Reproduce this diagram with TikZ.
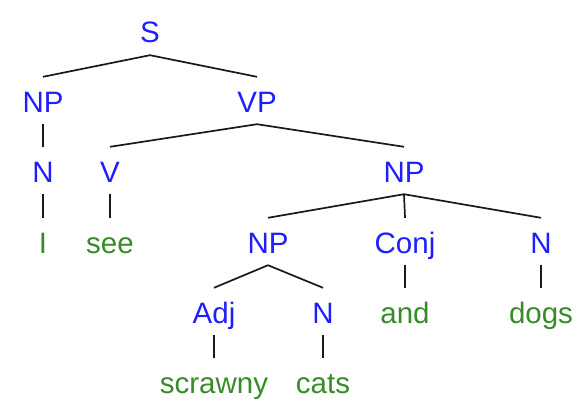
\documentclass[tikz,border=0pt]{standalone}
\usepackage{fontspec}
\setmainfont{Liberation Sans}
\definecolor{catblue}{RGB}{30,30,255}
\definecolor{wordgreen}{RGB}{55,140,40}
\begin{document}
\begin{tikzpicture}[x=1pt,y=-1pt,
  lab/.style={anchor=base,font=\fontsize{29.5}{31}\selectfont,text height=23pt,text depth=0pt,inner xsep=2pt,inner ysep=12pt},
  cat/.style={lab,text=catblue},
  word/.style={lab,text=wordgreen},
  edge/.style={line width=1.7pt,black!90}]
\useasboundingbox (0,0) rectangle (585,417);
% row centres: 33,102,172,243,313,383 ; baseline = centre+10
\node[cat] (S) at (150,43) {S};
\node[cat] (NPa) at (43,112) {NP};
\node[cat] (VP) at (257,112) {VP};
\node[cat] (Na) at (43,182) {N};
\node[cat] (V) at (110,182) {V};
\node[cat] (NPb) at (404,182) {NP};
\node[word] (I) at (43,253) {I};
\node[word] (see) at (110,253) {see};
\node[cat] (NPc) at (268,253) {NP};
\node[cat] (Conj) at (405,253) {Conj};
\node[cat] (Nb) at (541,253) {N};
\node[cat] (Adj) at (214,323) {Adj};
\node[cat] (Nc) at (323,323) {N};
\node[word] (and) at (405,323) {and};
\node[word] (dogs) at (541,323) {dogs};
\node[word] (scrawny) at (214,393) {scrawny};
\node[word] (cats) at (323,393) {cats};
\draw[edge] (S.south) -- (NPa.north);
\draw[edge] (S.south) -- (VP.north);
\draw[edge] (NPa.south) -- (Na.north);
\draw[edge] (Na.south) -- (I.north);
\draw[edge] (VP.south) -- (V.north);
\draw[edge] (VP.south) -- (NPb.north);
\draw[edge] (V.south) -- (see.north);
\draw[edge] (NPb.south) -- (NPc.north);
\draw[edge] (NPb.south) -- (Conj.north);
\draw[edge] (NPb.south) -- (Nb.north);
\draw[edge] (NPc.south) -- (Adj.north);
\draw[edge] (NPc.south) -- (Nc.north);
\draw[edge] (Conj.south) -- (and.north);
\draw[edge] (Nb.south) -- (dogs.north);
\draw[edge] (Adj.south) -- (scrawny.north);
\draw[edge] (Nc.south) -- (cats.north);
\end{tikzpicture}
\end{document}
